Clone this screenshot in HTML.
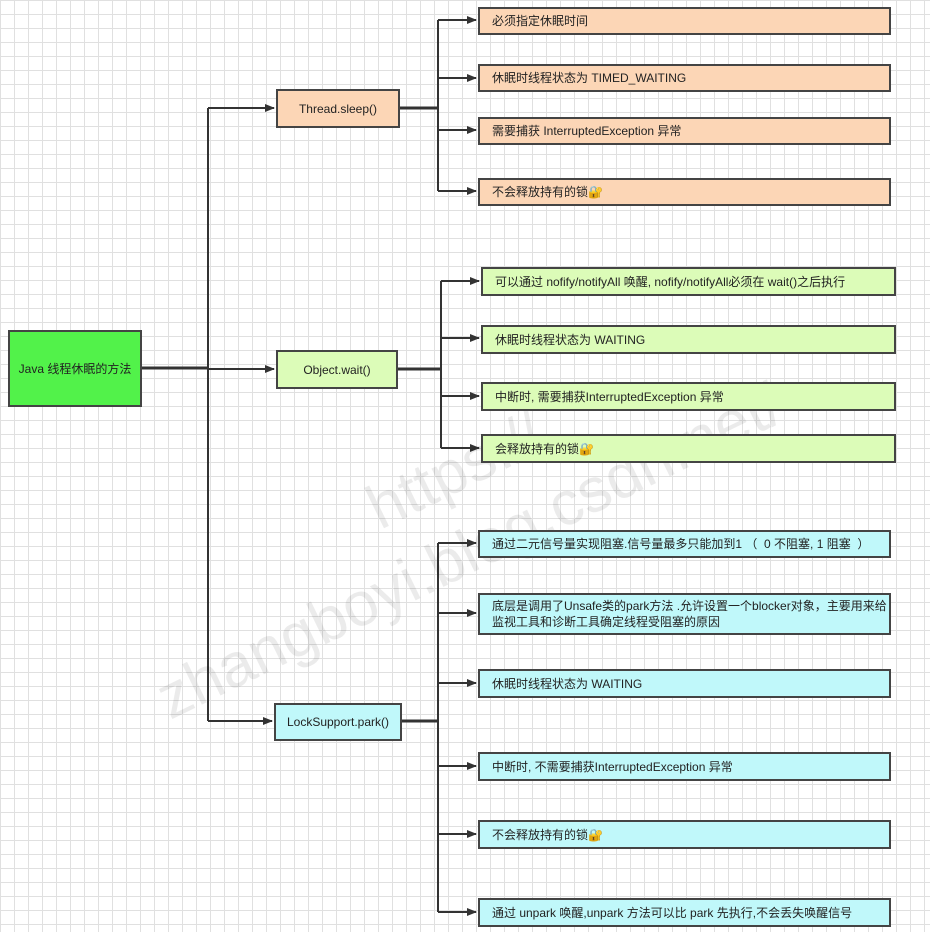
<!DOCTYPE html>
<html><head><meta charset="utf-8"><style>
body{margin:0;width:930px;height:932px;overflow:hidden;position:relative;background-color:#fff;
background-image:linear-gradient(#e0e0e0 1px,transparent 1px),linear-gradient(90deg,#e0e0e0 1px,transparent 1px);
background-size:14px 14px;font-family:"Liberation Sans","Noto Sans CJK SC",sans-serif;}
.b{position:absolute;border:2px solid #444;box-sizing:border-box;font-size:12px;color:#222;display:flex;align-items:center;padding-left:12px;line-height:16px}
.c{justify-content:center;padding-left:0}
.o{background:#fcd6b6}.g{background:#dcfcb8}.y{background:#c0f8fa}
svg{position:absolute;left:0;top:0}
.wm{position:absolute;font-size:62px;color:rgba(0,0,0,0.08);transform:rotate(-26deg);transform-origin:left bottom;white-space:nowrap;line-height:62px}
</style></head><body>
<svg width="930" height="932">
<defs><marker id="a" markerWidth="10" markerHeight="8" refX="9" refY="4" orient="auto" markerUnits="userSpaceOnUse"><path d="M0,0L10,4L0,8z" fill="#333"/></marker></defs>
<g stroke="#333" fill="none" stroke-width="2">
<path d="M141,368H208" stroke-width="3"/>
<path d="M208,108V721"/>
<path d="M208,108H274" marker-end="url(#a)"/>
<path d="M208,369H274" marker-end="url(#a)"/>
<path d="M208,721H272" marker-end="url(#a)"/>
<path d="M399,108H438" stroke-width="3"/><path d="M438,20V191"/>
<path d="M438,20H476" marker-end="url(#a)"/><path d="M438,78H476" marker-end="url(#a)"/><path d="M438,130H476" marker-end="url(#a)"/><path d="M438,191H476" marker-end="url(#a)"/>
<path d="M397,369H441" stroke-width="3"/><path d="M441,281V448"/>
<path d="M441,281H479" marker-end="url(#a)"/><path d="M441,338H479" marker-end="url(#a)"/><path d="M441,396H479" marker-end="url(#a)"/><path d="M441,448H479" marker-end="url(#a)"/>
<path d="M401,721H438" stroke-width="3"/><path d="M438,543V912"/>
<path d="M438,543H476" marker-end="url(#a)"/><path d="M438,613H476" marker-end="url(#a)"/><path d="M438,683H476" marker-end="url(#a)"/><path d="M438,766H476" marker-end="url(#a)"/><path d="M438,834H476" marker-end="url(#a)"/><path d="M438,912H476" marker-end="url(#a)"/>
</g></svg>
<div class="wm" style="left:385px;top:478px">https://</div>
<div class="wm" style="left:175px;top:668px">zhangboyi.blog.csdn.net/</div>
<div class="b c" style="left:8px;top:330px;width:134px;height:77px;background:#52f24a">Java 线程休眠的方法</div>
<div class="b c o" style="left:276px;top:89px;width:124px;height:39px">Thread.sleep()</div>
<div class="b c g" style="left:276px;top:350px;width:122px;height:39px">Object.wait()</div>
<div class="b c y" style="left:274px;top:703px;width:128px;height:38px">LockSupport.park()</div>
<div class="b o" style="left:478px;top:7px;width:413px;height:28px">必须指定休眠时间</div>
<div class="b o" style="left:478px;top:64px;width:413px;height:28px">休眠时线程状态为 TIMED_WAITING</div>
<div class="b o" style="left:478px;top:117px;width:413px;height:28px">需要捕获 InterruptedException 异常</div>
<div class="b o" style="left:478px;top:178px;width:413px;height:28px">不会释放持有的锁🔐</div>
<div class="b g" style="left:481px;top:267px;width:415px;height:29px">可以通过 nofify/notifyAll 唤醒, nofify/notifyAll必须在 wait()之后执行</div>
<div class="b g" style="left:481px;top:325px;width:415px;height:29px">休眠时线程状态为 WAITING</div>
<div class="b g" style="left:481px;top:382px;width:415px;height:29px">中断时, 需要捕获InterruptedException 异常</div>
<div class="b g" style="left:481px;top:434px;width:415px;height:29px">会释放持有的锁🔐</div>
<div class="b y" style="left:478px;top:530px;width:413px;height:28px">通过二元信号量实现阻塞.信号量最多只能加到1 （ &nbsp;0 不阻塞, 1 阻塞 &nbsp;）</div>
<div class="b y" style="left:478px;top:593px;width:413px;height:42px">底层是调用了Unsafe类的park方法 .允许设置一个blocker对象，主要用来给监视工具和诊断工具确定线程受阻塞的原因</div>
<div class="b y" style="left:478px;top:669px;width:413px;height:29px">休眠时线程状态为 WAITING</div>
<div class="b y" style="left:478px;top:752px;width:413px;height:29px">中断时, 不需要捕获InterruptedException 异常</div>
<div class="b y" style="left:478px;top:820px;width:413px;height:29px">不会释放持有的锁🔐</div>
<div class="b y" style="left:478px;top:898px;width:413px;height:29px">通过 unpark 唤醒,unpark 方法可以比 park 先执行,不会丢失唤醒信号</div>
</body></html>
